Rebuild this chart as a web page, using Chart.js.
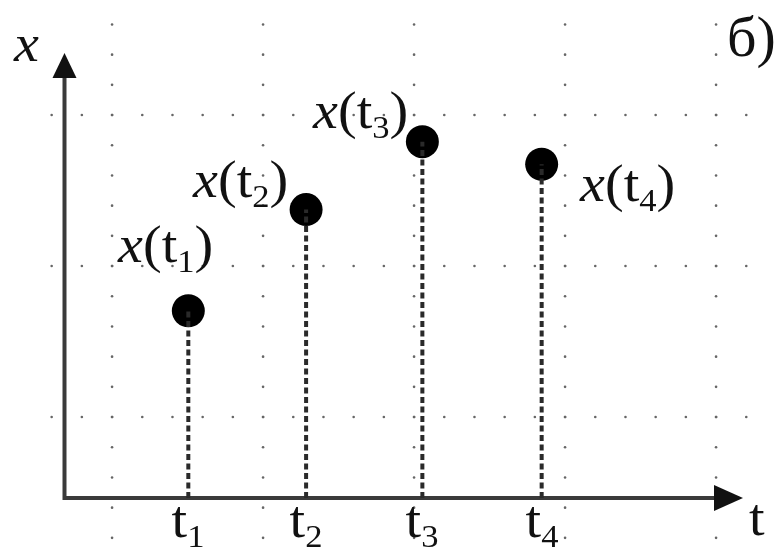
<!DOCTYPE html>
<html>
<head>
<meta charset="utf-8">
<script src="https://cdn.jsdelivr.net/npm/chart.js@4/dist/chart.umd.min.js"></script>
<style>
  html, body { margin: 0; padding: 0; background: #fff; overflow: hidden; }
  #wrap { width: 775px; height: 547px; position: relative; overflow: hidden; }
  .lbl {
    position: absolute; z-index: 2;
    font-family: 'Liberation Serif', 'Times New Roman', serif;
    font-size: 52px; line-height: 0; white-space: nowrap; color: #111;
    transform: scaleX(1.08); transform-origin: 0 0;
  }
  .lbl.mid { transform: translateX(-50%) scaleX(1.08); transform-origin: 50% 0; }
  .lbl sub { font-size: 32px; vertical-align: -10px; line-height: 0; }
  .lbl i { font-style: italic; }
  .lbl.panel { font-size: 58px; transform: none; }
</style>
</head>
<body>
<div id="wrap"><canvas id="c"></canvas></div>
<script>
// Sampling moments t_i, measured in grid cells from the origin
const times = [0.82, 1.60, 2.37, 3.16];
// Sampled values x(t_i)
const values = [1.24, 1.91, 2.36, 2.21];
// Subscript of each sample
const indices = ['1', '2', '3', '4'];
// Dotted reference lines (axis units)
const gridT = [0.315, 1.315, 2.315, 3.315, 4.315];
const gridX = [0.536, 1.536, 2.536];

// Label placement relative to each sample point: left edge and baseline, px
const labelOffsets = [[-70, -48], [-113, -12], [-109, -13], [38, 37]];
// distance from the top of a line-height:0 text box to its baseline, in em
const BASE_EM = 0.3375;

const wrap = document.getElementById('wrap');
function addLabel(html, x, baseline, cls, size) {
  const el = document.createElement('div');
  el.className = 'lbl' + (cls ? ' ' + cls : '');
  el.innerHTML = html;
  el.style.left = x + 'px';
  el.style.top = (baseline - BASE_EM * (size || 52)) + 'px';
  wrap.appendChild(el);
}

const gridAndAxes = {
  id: 'gridAndAxes',
  beforeDatasetsDraw(chart) {
    const { ctx, scales: { x: sx, y: sy } } = chart;
    const step = 0.2;
    ctx.save();
    ctx.fillStyle = '#666';
    // vertical dotted lines
    gridT.forEach(gt => {
      const px = sx.getPixelForValue(gt);
      for (let v = gridX[0] - 5 * step; ; v += step) {
        const py = sy.getPixelForValue(v);
        if (py < 24) break;
        if (py > 547) continue;
        ctx.beginPath(); ctx.arc(px, py, 1.3, 0, Math.PI * 2); ctx.fill();
      }
    });
    // horizontal dotted lines
    gridX.forEach(gx => {
      const py = sy.getPixelForValue(gx);
      for (let v = gridT[0] - 2 * step; ; v += step) {
        const px = sx.getPixelForValue(v);
        if (px > 775) break;
        if (px < 18) continue;
        ctx.beginPath(); ctx.arc(px, py, 1.3, 0, Math.PI * 2); ctx.fill();
      }
    });

    // axes with arrowheads
    const ox = sx.getPixelForValue(0), oy = sy.getPixelForValue(0);
    const yTip = 53, xTip = 743;
    ctx.strokeStyle = '#3a3a3a';
    ctx.lineWidth = 4;
    ctx.beginPath();
    ctx.moveTo(ox, yTip + 20); ctx.lineTo(ox, oy); ctx.lineTo(xTip - 20, oy);
    ctx.stroke();
    ctx.fillStyle = '#111';
    ctx.beginPath();
    ctx.moveTo(ox, yTip); ctx.lineTo(ox - 12, yTip + 25); ctx.lineTo(ox + 12, yTip + 25);
    ctx.closePath(); ctx.fill();
    ctx.beginPath();
    ctx.moveTo(xTip, oy); ctx.lineTo(xTip - 29, oy - 13); ctx.lineTo(xTip - 29, oy + 13);
    ctx.closePath(); ctx.fill();
    ctx.restore();
  }
};

const dropLines = times.map((t, i) => ({
  type: 'line',
  data: [{ x: t, y: 0 }, { x: t, y: values[i] }],
  borderColor: '#2a2a2a',
  borderWidth: 4,
  borderDash: [6, 3.5],
  pointRadius: 0,
  fill: false
}));

const chart = new Chart(document.getElementById('c'), {
  type: 'scatter',
  data: {
    datasets: [
      ...dropLines,
      {
        type: 'scatter',
        data: times.map((t, i) => ({ x: t, y: values[i] })),
        backgroundColor: '#000',
        borderWidth: 0,
        pointRadius: 16.5,
        pointHoverRadius: 16.5
      }
    ]
  },
  options: {
    responsive: true,
    maintainAspectRatio: false,
    animation: false,
    events: [],
    layout: { padding: 0, autoPadding: false },
    plugins: { legend: { display: false }, tooltip: { enabled: false } },
    scales: {
      x: { type: 'linear', display: false, min: -64.5 / 151, max: (775 - 64.5) / 151 },
      y: { type: 'linear', display: false, min: -(547 - 498) / 151, max: 498 / 151 }
    }
  },
  plugins: [gridAndAxes]
});

// Text: panel letter, axis names, sample labels and tick labels
const sx = chart.scales.x, sy = chart.scales.y;
addLabel('б)', 727, 57, 'panel', 58);
addLabel('<i>x</i>', 14, 62);
addLabel('t', 749, 536);
times.forEach((t, i) => {
  const px = sx.getPixelForValue(t), py = sy.getPixelForValue(values[i]);
  const [dx, dy] = labelOffsets[i];
  addLabel(`<i>x</i>(t<sub>${indices[i]}</sub>)`, px + dx, py + dy);
  addLabel(`t<sub>${indices[i]}</sub>`, px, sy.getPixelForValue(0) + 40, 'mid');
});
</script>
</body>
</html>
